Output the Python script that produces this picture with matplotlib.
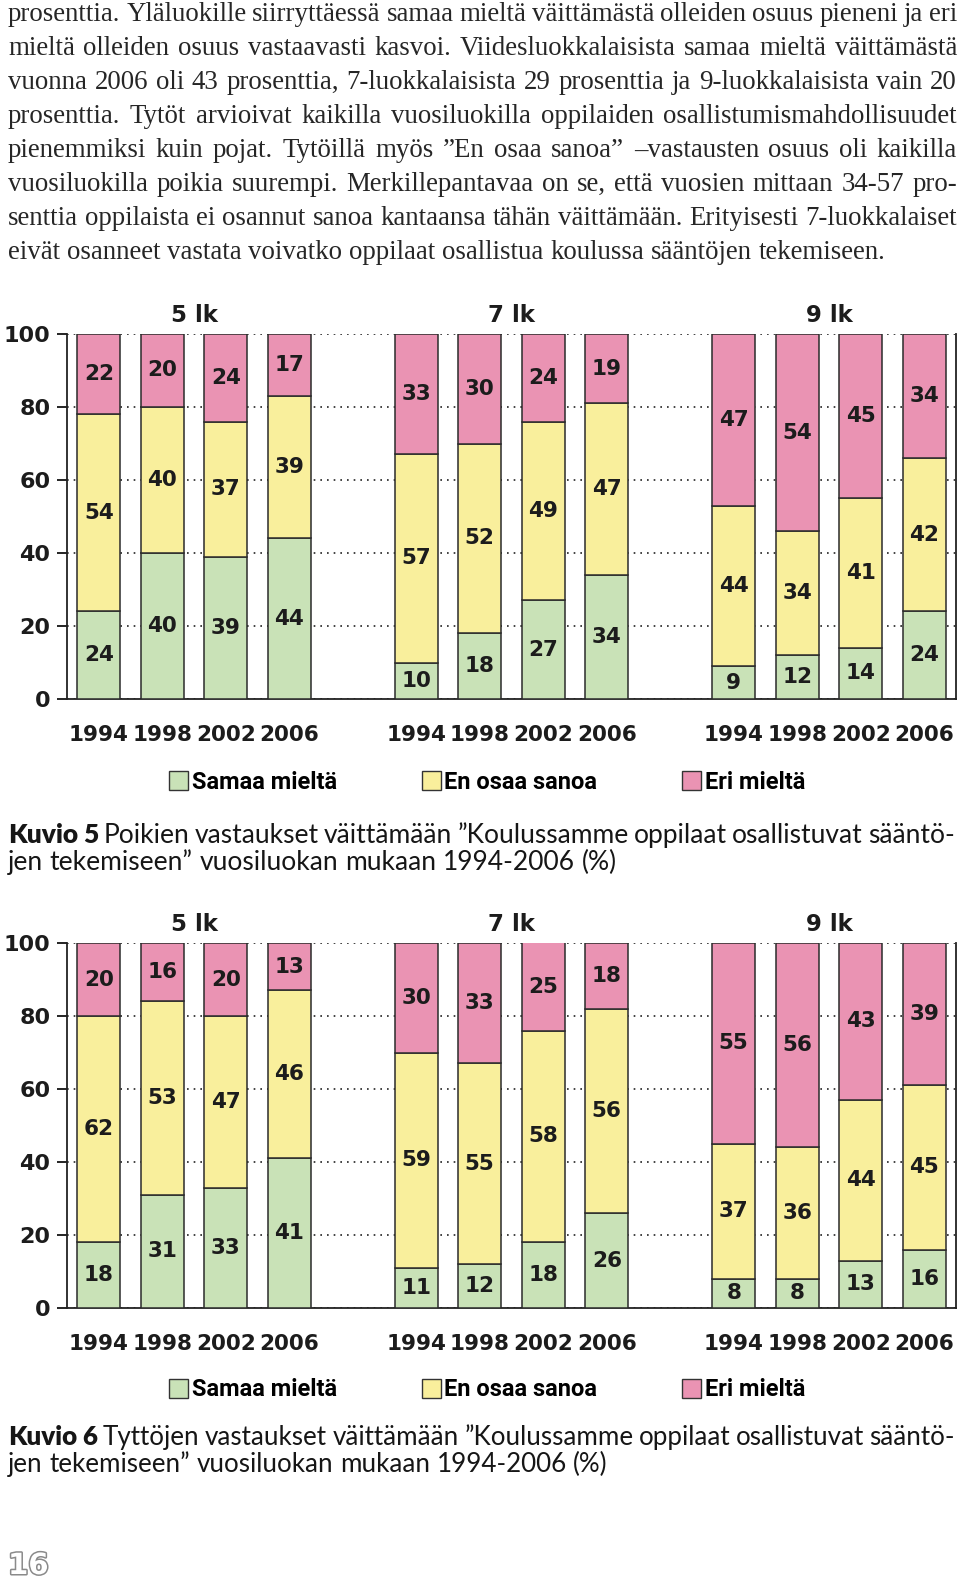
import numpy as np
import matplotlib
matplotlib.use("Agg")
import matplotlib.pyplot as plt
from matplotlib.patches import Patch
from matplotlib.font_manager import FontProperties
from matplotlib.backends.backend_agg import get_hinting_flag
import matplotlib.patheffects as pe

W, H = 960, 1584

years = ['1994', '1998', '2002', '2006']
grades = ['5 lk', '7 lk', '9 lk']
series_names = ['Samaa mieltä', 'En osaa sanoa', 'Eri mieltä']
colors = ['#c9e2b7', '#f9ef9c', '#ea93b3']

# Kuvio 5, pojat: 5 lk, 7 lk, 9 lk x 1994-2006
boys_agree = [24, 40, 39, 44, 10, 18, 27, 34, 9, 12, 14, 24]
boys_dunno = [54, 40, 37, 39, 57, 52, 49, 47, 44, 34, 41, 42]
boys_disagree = [22, 20, 24, 17, 33, 30, 24, 19, 47, 54, 45, 34]

# Kuvio 6, tytöt
girls_agree = [18, 31, 33, 41, 11, 12, 18, 26, 8, 8, 13, 16]
girls_dunno = [62, 53, 47, 46, 59, 55, 58, 56, 37, 36, 44, 45]
girls_disagree = [20, 16, 20, 13, 30, 33, 25, 18, 55, 56, 43, 39]

body_lines = [
    "prosenttia. Yläluokille siirryttäessä samaa mieltä väittämästä olleiden osuus pieneni ja eri",
    "mieltä olleiden osuus vastaavasti kasvoi. Viidesluokkalaisista samaa mieltä väittämästä",
    "vuonna 2006 oli 43 prosenttia, 7-luokkalaisista 29 prosenttia ja 9-luokkalaisista vain 20",
    "prosenttia. Tytöt arvioivat kaikilla vuosiluokilla oppilaiden osallistumismahdollisuudet",
    "pienemmiksi kuin pojat. Tytöillä myös ”En osaa sanoa” –vastausten osuus oli kaikilla",
    "vuosiluokilla poikia suurempi. Merkillepantavaa on se, että vuosien mittaan 34-57 pro-",
    "senttia oppilaista ei osannut sanoa kantaansa tähän väittämään. Erityisesti 7-luokkalaiset",
    "eivät osanneet vastata voivatko oppilaat osallistua koulussa sääntöjen tekemiseen.",
]
caption5 = ["Kuvio 5 Poikien vastaukset väittämään ”Koulussamme oppilaat osallistuvat sääntö-",
            "jen tekemiseen” vuosiluokan mukaan 1994-2006 (%)"]
caption6 = ["Kuvio 6 Tyttöjen vastaukset väittämään ”Koulussamme oppilaat osallistuvat sääntö-",
            "jen tekemiseen” vuosiluokan mukaan 1994-2006 (%)"]

serif = 'Liberation Serif'
capfont = 'Lato'
legfont = 'Roboto'
txtcol = '#262626'

fig = plt.figure(figsize=(W / 100, H / 100), dpi=100)
renderer = fig.canvas.get_renderer()


def width_of(s, size, family, weight='normal'):
    t = fig.text(0, 0, s, fontsize=size, family=family, fontweight=weight)
    w = t.get_window_extent(renderer).width
    t.remove()
    return w


def baseline_fix(s, size, family, weight):
    # Agg pyöristää tekstikuvan korkeuden, korjataan sanakohtainen heitto
    fp = FontProperties(family=family, weight=weight, size=size)
    font = renderer._prepare_font(fp)
    font.set_text(s, 0, flags=get_hinting_flag())
    d26 = font.get_descent()
    h26 = font.get_width_height()[1]
    return (h26 // 64) - ((h26 - d26) // 64) - d26 / 64.0


def paragraph(lines, baselines, x0, x1, size, family, bold_words=0, weight='normal',
              color=txtcol):
    def wt(li, i):
        return 'heavy' if (li == 0 and i < bold_words) else weight

    def natural(sz):
        sp = width_of('x x', sz, family, weight) - width_of('xx', sz, family, weight)
        best = 0
        for li, line in enumerate(lines):
            words = line.split(' ')
            tot = sum(width_of(w, sz, family, wt(li, i)) for i, w in enumerate(words))
            best = max(best, tot + sp * 0.8 * (len(words) - 1))
        return best, sp
    nat, sp = natural(size)
    if nat > x1 - x0:
        size = size * (x1 - x0) / nat
        nat, sp = natural(size)
    for li, (line, y) in enumerate(zip(lines, baselines)):
        words = line.split(' ')
        wts = [wt(li, i) for i in range(len(words))]
        ws = [width_of(w, size, family, t) for w, t in zip(words, wts)]
        if li == len(lines) - 1:
            gap = sp
        else:
            gap = (x1 - x0 - sum(ws)) / (len(words) - 1)
        x = x0
        for w, t, ww in zip(words, wts, ws):
            yy = y + baseline_fix(w, size, family, t)
            fig.text(x / W, 1 - yy / H, w, fontsize=size, family=family, fontweight=t,
                     color=color, va='baseline', ha='left')
            x += ww + gap


# leipäteksti
paragraph(body_lines, [21 + 34 * i for i in range(8)], 8, 957, 19.4, serif)


def draw_chart(top_px, agree, dunno, disagree, legend_y, caption, cap_base):
    ax = fig.add_axes([67 / W, 1 - (top_px + 365) / H, (956 - 67) / W, 365 / H])
    pos = [g * 5 + i for g in range(3) for i in range(4)]
    bottom = np.zeros(12)
    for vals, c in zip([agree, dunno, disagree], colors):
        bars = ax.bar(pos, vals, 0.67, bottom=bottom, color=c, edgecolor='#2b2b2b',
                      linewidth=1.1, zorder=3)
        ax.bar_label(bars, label_type='center', fontsize=15.5, fontweight='bold',
                     color='#1c1c1c')
        bottom += np.array(vals)
    ax.set_xlim(-0.5, 13.5)
    ax.set_ylim(0, 100)
    ax.set_yticks([0, 20, 40, 60, 80, 100])
    ax.yaxis.grid(True, linestyle=(0, (1, 3)), color='#222222', linewidth=1.2)
    ax.set_axisbelow(True)
    ax.set_xticks(pos, years * 3)
    ax.tick_params(axis='x', length=0, pad=19, labelsize=15.5, labelcolor='#1c1c1c')
    ax.tick_params(axis='y', length=7, width=1.2, direction='out', pad=5,
                   labelsize=16, labelcolor='#1c1c1c')
    for lab in ax.get_xticklabels() + ax.get_yticklabels():
        lab.set_fontweight('bold')
    ax.spines['top'].set_visible(False)
    for s in ['left', 'right', 'bottom']:
        ax.spines[s].set_linewidth(1.3)
        ax.spines[s].set_color('#222222')
    for g, name in enumerate(grades):
        ax.text(g * 5 + 1.5, 1.05, name, transform=ax.get_xaxis_transform(),
                ha='center', va='center', fontsize=16.5, fontweight='bold', color='#1c1c1c')

    handles = [Patch(facecolor=c, edgecolor='#333333', label=n) for c, n in zip(colors, series_names)]
    fig.legend(handles=handles, loc='center', bbox_to_anchor=(487 / W, 1 - legend_y / H),
               ncol=3, frameon=False, handlelength=0.8, handleheight=0.9,
               handletextpad=0.15, columnspacing=3.6,
               prop={'family': legfont, 'weight': 'bold', 'size': 17})

    paragraph(caption, cap_base, 8, 955, 20, capfont, bold_words=2, weight='normal',
              color='#161616')


draw_chart(334, boys_agree, boys_dunno, boys_disagree, 782, caption5, [843, 870])
draw_chart(943, girls_agree, girls_dunno, girls_disagree, 1390, caption6, [1445, 1472])

# sivunumero
fig.text(8 / W, 1 - 1566 / H, '16', fontsize=21, fontweight='bold', color='white',
         va='center', ha='left',
         path_effects=[pe.Stroke(linewidth=2.2, foreground='#8a8a8a'), pe.Normal()])

fig.savefig('out.png', dpi=100)
